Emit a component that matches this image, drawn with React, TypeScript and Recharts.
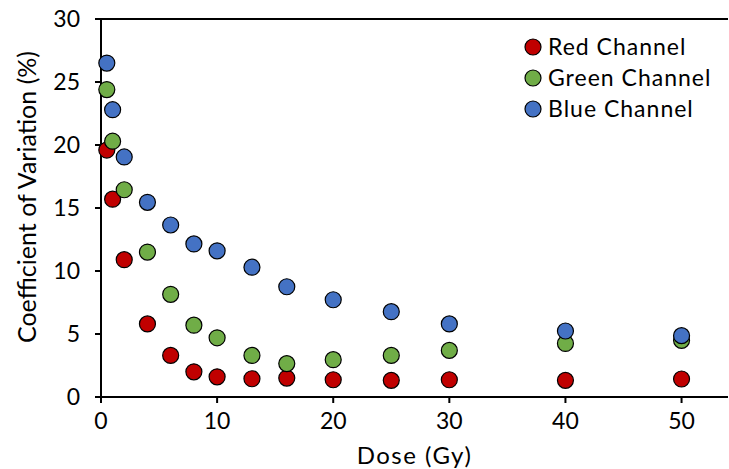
import React from "react";
import { ScatterChart, Scatter, XAxis, YAxis, ReferenceLine, Label } from "recharts";

const doses = [0.5, 1, 2, 4, 6, 8, 10, 13, 16, 20, 25, 30, 40, 50];
const redValues = [19.6, 15.7, 10.9, 5.8, 3.3, 2.0, 1.6, 1.45, 1.5, 1.37, 1.32, 1.37, 1.32, 1.43];
const greenValues = [24.4, 20.3, 16.45, 11.5, 8.15, 5.7, 4.7, 3.3, 2.65, 2.96, 3.3, 3.7, 4.25, 4.5];
const blueValues = [26.5, 22.8, 19.05, 15.45, 13.65, 12.15, 11.6, 10.3, 8.75, 7.72, 6.77, 5.8, 5.24, 4.87];
const xTicks = [0, 10, 20, 30, 40, 50];
const yTicks = [0, 5, 10, 15, 20, 25, 30];

const seriesNames = ["Red Channel", "Green Channel", "Blue Channel"];
const seriesColors = ["#C00000", "#70AD47", "#4472C4"];

const toPoints = (vals: number[]) => doses.map((d, i) => ({ x: d, y: vals[i] }));
const series = [redValues, greenValues, blueValues].map(toPoints);

const FONT = "Lato, 'DejaVu Sans', sans-serif";
const FS = 23;

const Dot = (color: string) => (props: any) => (
  <circle cx={props.cx} cy={props.cy} r={8} fill={color} stroke="#000" strokeWidth={1.2} />
);

const YLabel = (props: any) => {
  const vb = props.viewBox || {};
  const cy = (vb.y ?? 19) + (vb.height ?? 378) / 2 - 11;
  return (
    <text
      x={26}
      y={cy}
      transform={`rotate(-90, 26, ${cy})`}
      textAnchor="middle"
      dominantBaseline="central"
      fill="#000"
      fontSize={25}
      fontFamily={FONT}
    >
      Coefficient of Variation (%)
    </text>
  );
};

const LegendBox = () => (
  <div
    style={{
      position: "absolute",
      left: 524,
      top: 31,
      fontFamily: FONT,
      fontSize: FS,
      letterSpacing: 1,
      color: "#000",
      lineHeight: 1,
    }}
  >
    {seriesNames.map((n, i) => (
      <div key={n} style={{ display: "flex", alignItems: "center", height: 31 }}>
        <svg width={18} height={18} style={{ marginRight: 6 }}>
          <circle cx={9} cy={9} r={8} fill={seriesColors[i]} stroke="#000" strokeWidth={1.2} />
        </svg>
        <span>{n}</span>
      </div>
    ))}
  </div>
);

export default function App() {
  return (
    <div style={{ position: "absolute", left: 0, top: 0, width: 729, height: 469, background: "#fff" }}>
      <ScatterChart width={729} height={469} margin={{ top: 19, right: 1, left: 0, bottom: 0 }}>
        <XAxis
          type="number"
          dataKey="x"
          domain={[0, 54]}
          ticks={xTicks}
          height={72}
          axisLine={{ stroke: "#000", strokeWidth: 2 }}
          tickLine={{ stroke: "#000", strokeWidth: 2 }}
          tickSize={6}
          tick={{ fill: "#000", fontSize: FS, fontFamily: FONT }}
          tickMargin={10}
        >
          <Label
            value="Dose (Gy)"
            position="insideBottom"
            offset={5}
            style={{ fill: "#000", fontSize: 24, fontFamily: FONT, letterSpacing: 1.5 }}
          />
        </XAxis>
        <YAxis
          type="number"
          dataKey="y"
          domain={[0, 30]}
          ticks={yTicks}
          width={101}
          axisLine={{ stroke: "#000", strokeWidth: 2 }}
          tickLine={{ stroke: "#000", strokeWidth: 2 }}
          tickSize={6}
          tick={{ fill: "#000", fontSize: FS, fontFamily: FONT }}
          tickMargin={15}
        >
          <Label content={<YLabel />} />
        </YAxis>
        <ReferenceLine y={30} stroke="#000" strokeWidth={2} />
        {series.map((data, i) => (
          <Scatter
            key={seriesNames[i]}
            name={seriesNames[i]}
            data={data}
            fill={seriesColors[i]}
            shape={Dot(seriesColors[i])}
            isAnimationActive={false}
          />
        ))}
      </ScatterChart>
      <LegendBox />
    </div>
  );
}
